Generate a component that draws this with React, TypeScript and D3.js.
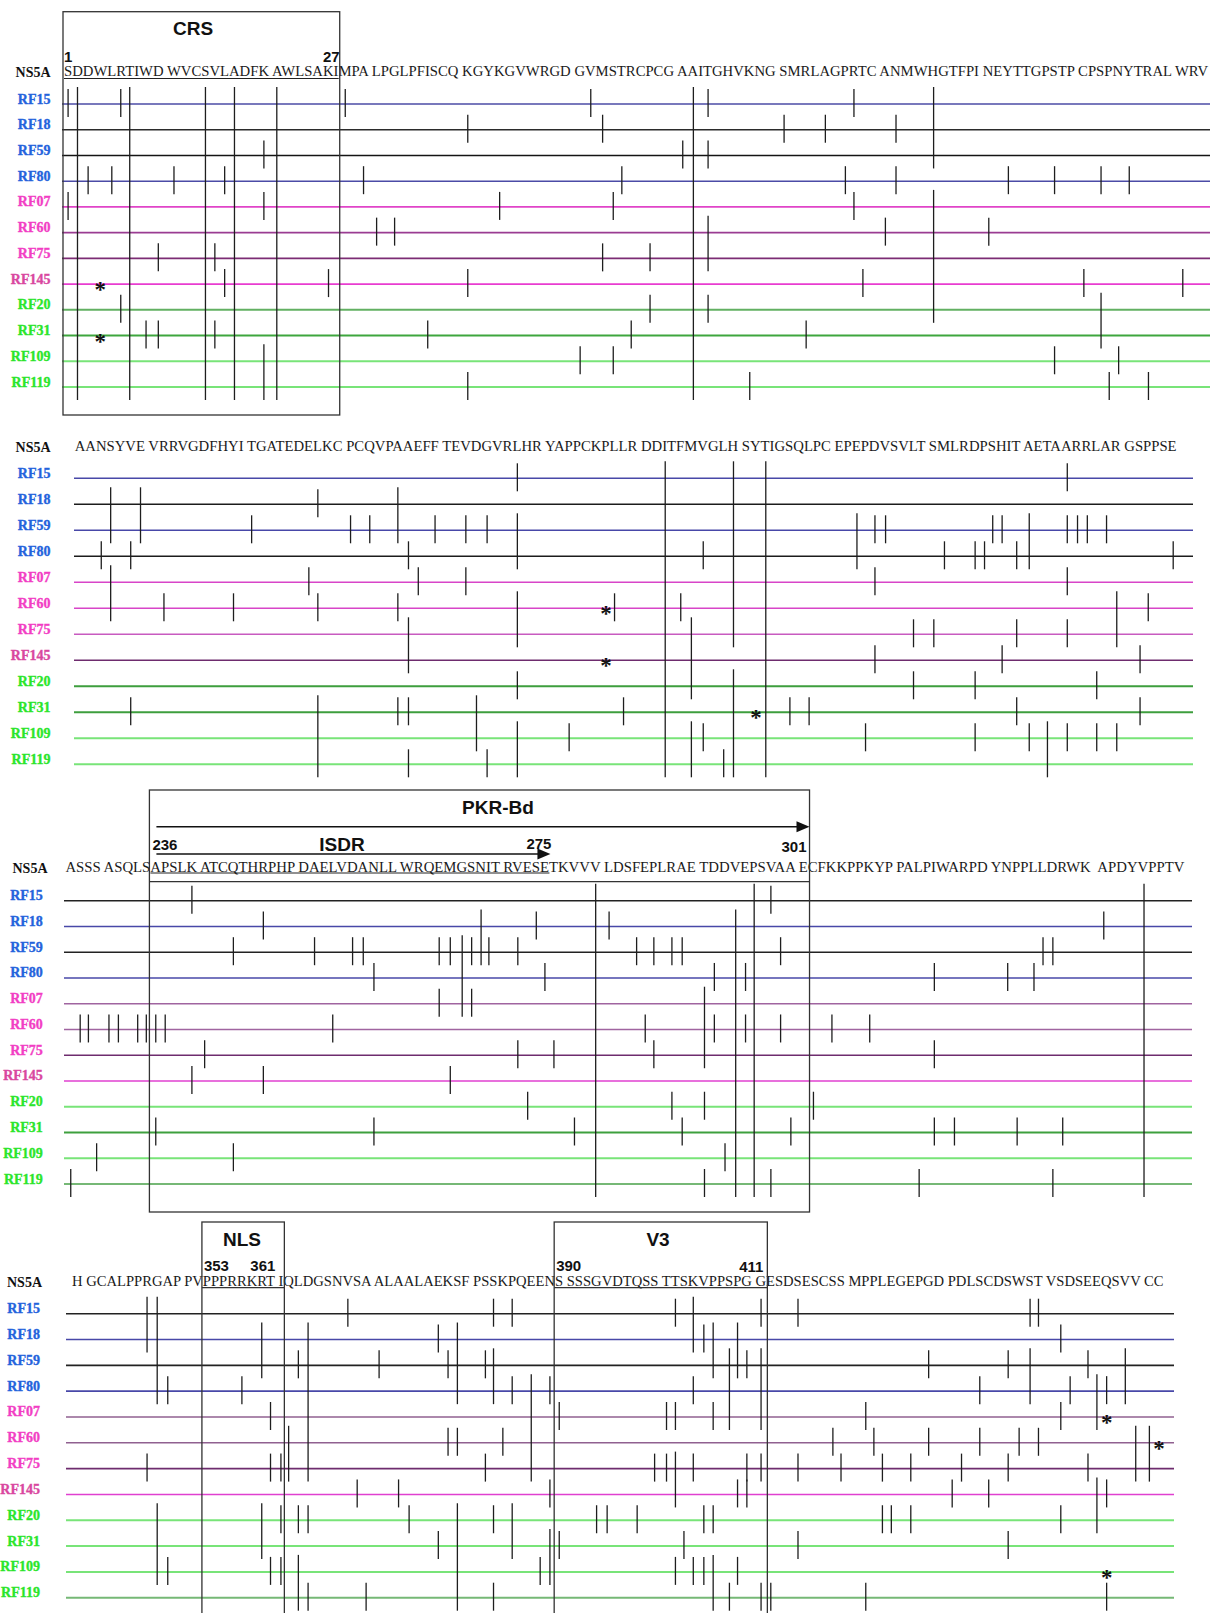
import React, { useEffect, useRef } from 'react';
import * as d3 from 'd3';

const W = 1210;
const H = 1613;

const ROWS = ['RF15', 'RF18', 'RF59', 'RF80', 'RF07', 'RF60', 'RF75', 'RF145', 'RF20', 'RF31', 'RF109', 'RF119'];
const ROW_LABEL_COLORS = ['#2463dc', '#2463dc', '#2463dc', '#2463dc', '#f23ec4', '#f23ec4', '#f23ec4', '#d9479f', '#2be52b', '#2be52b', '#2be52b', '#2be52b'];

// ---- panel 1 : residues 1-113
const SEQ_1 = 'SDDWLRTIWD WVCSVLADFK AWLSAKIMPA LPGLPFISCQ KGYKGVWRGD GVMSTRCPCG AAITGHVKNG SMRLAGPRTC ANMWHGTFPI NEYTTGPSTP CPSPNYTRAL WRV';
const MUT_1 = [
  [1, 6, 28, 52, 64, 78],
  [41, 53, 71, 75, 82],
  [20, 61, 64],
  [3, 5, 11, 16, 30, 55, 77, 82, 93, 98, 103, 106],
  [1, 20, 44, 54, 78],
  [31, 33, 81, 91],
  [10, 15, 53, 58],
  [16, 26, 41, 79, 101, 111],
  [6, 58, 64],
  [9, 10, 15, 37, 56, 73],
  [51, 54, 98, 105],
  [41, 68, 104, 108],
];
const LONG_1: [number, string, string][] = [
  [2, 'RF15', 'RF119'], [7, 'RF15', 'RF119'], [14, 'RF15', 'RF119'], [17, 'RF15', 'RF119'],
  [21, 'RF15', 'RF119'], [20, 'RF109', 'RF119'], [62, 'RF15', 'RF119'], [85, 'RF15', 'RF59'],
  [85, 'RF07', 'RF20'], [64, 'RF60', 'RF75'], [103, 'RF20', 'RF31'],
];
const STAR_1: [number, string][] = [[4, 'RF145'], [4, 'RF31']];

// ---- panel 2 : residues 114-226
const SEQ_2 = 'AANSYVE VRRVGDFHYI TGATEDELKC PCQVPAAEFF TEVDGVRLHR YAPPCKPLLR DDITFMVGLH SYTIGSQLPC EPEPDVSVLT SMLRDPSHIT AETAARRLAR GSPPSE';
const MUT_2 = [
  [158, 215],
  [138],
  [131, 141, 143, 150, 153, 155, 195, 196, 207, 208, 215, 216, 217, 219],
  [116, 119, 147, 177, 202, 205, 206, 210, 226],
  [137, 148, 153, 195, 215],
  [122, 129, 138, 146, 168, 175, 223],
  [199, 201, 210, 215],
  [195, 208, 222],
  [158, 199, 205, 218],
  [119, 146, 147, 169, 186, 188, 210, 222],
  [163, 177, 194, 205, 211, 215, 218, 220],
  [147, 155, 179],
];
const LONG_2: [number, string, string][] = [
  [173, 'RF15', 'RF119'], [180, 'RF15', 'RF75'], [180, 'RF20', 'RF119'], [183, 'RF15', 'RF119'],
  [158, 'RF59', 'RF80'], [158, 'RF60', 'RF75'], [158, 'RF109', 'RF119'], [117, 'RF18', 'RF59'],
  [117, 'RF07', 'RF60'], [120, 'RF18', 'RF59'], [146, 'RF18', 'RF59'], [138, 'RF31', 'RF119'],
  [154, 'RF31', 'RF109'], [147, 'RF75', 'RF145'], [193, 'RF59', 'RF80'], [211, 'RF59', 'RF80'],
  [220, 'RF60', 'RF75'], [176, 'RF75', 'RF20'], [176, 'RF109', 'RF119'], [213, 'RF109', 'RF119'],
];
const STAR_2: [number, string][] = [[167, 'RF60'], [167, 'RF145'], [182, 'RF31']];

// ---- panel 3 : residues 227-339
const SEQ_3 = 'ASSS ASQLSAPSLK ATCQTHRPHP DAELVDANLL WRQEMGSNIT RVESETKVVV LDSFEPLRAE TDDVEPSVAA ECFKKPPKYP PALPIWARPD YNPPLLDRWK  APDYVPPTV';
const MUT_3 = [
  [240, 298],
  [247, 274, 281, 331],
  [244, 252, 256, 257, 264, 265, 267, 269, 272, 284, 286, 288, 289, 299, 326, 327],
  [258, 275, 292, 295, 315, 322, 325],
  [264, 267],
  [228, 229, 231, 232, 234, 235, 236, 237, 254, 285, 292, 295, 299, 304, 308],
  [241, 272, 276, 286, 315],
  [240, 247, 265],
  [273, 288, 291, 302],
  [236, 258, 278, 289, 300, 315, 317, 323, 328],
  [230, 244, 293],
  [227, 291, 298, 313, 327],
];
const LONG_3: [number, string, string][] = [
  [280, 'RF15', 'RF119'], [296, 'RF15', 'RF119'], [294, 'RF18', 'RF119'], [335, 'RF15', 'RF119'],
  [291, 'RF07', 'RF75'], [268, 'RF18', 'RF59'], [266, 'RF59', 'RF07'],
];
const STAR_3: [number, string][] = [];

// ---- panel 4 : residues 340-452
const SEQ_4 = 'H GCALPPRGAP PVPPPRRKRT IQLDGSNVSA ALAALAEKSF PSSKPQEENS SSSGVDTQSS TTSKVPPSPG GESDSESCSS MPPLEGEPGD PDLSCDSWST VSDSEEQSVV CC';
const MUT_4 = [
  [368, 383, 385, 402, 411, 415, 439, 440],
  [377, 405, 442],
  [363, 371, 378, 382, 410, 429, 437, 445],
  [349, 357, 385, 389, 404, 434, 443, 447],
  [360, 390, 401, 402, 406, 422, 442],
  [378, 379, 384, 419, 423, 429, 434, 438, 440],
  [347, 360, 361, 382, 400, 401, 404, 410, 411, 415, 420, 424, 427, 432, 437, 445],
  [369, 373, 389, 409, 410, 431, 435, 447],
  [361, 363, 364, 374, 383, 394, 395, 398, 405, 406, 424, 425, 427, 442],
  [377, 390, 403, 415, 437],
  [349, 360, 361, 388, 402, 404, 405, 409],
  [364, 370, 383, 408, 411, 412, 422, 447],
];
const LONG_4: [number, string, string][] = [
  [347, 'RF15', 'RF18'], [348, 'RF15', 'RF80'], [359, 'RF18', 'RF59'], [364, 'RF18', 'RF75'],
  [379, 'RF18', 'RF80'], [383, 'RF59', 'RF80'], [387, 'RF80', 'RF75'], [362, 'RF60', 'RF75'],
  [348, 'RF20', 'RF109'], [359, 'RF20', 'RF31'], [379, 'RF20', 'RF119'], [385, 'RF20', 'RF31'],
  [389, 'RF31', 'RF109'], [363, 'RF109', 'RF119'], [404, 'RF15', 'RF18'], [406, 'RF18', 'RF59'],
  [409, 'RF18', 'RF59'], [408, 'RF59', 'RF07'], [411, 'RF59', 'RF07'], [439, 'RF59', 'RF80'],
  [449, 'RF59', 'RF80'], [446, 'RF80', 'RF07'], [450, 'RF60', 'RF75'], [451, 'RF60', 'RF75'],
  [402, 'RF75', 'RF145'], [446, 'RF145', 'RF20'], [406, 'RF109', 'RF119'],
];
const STAR_4: [number, string][] = [[447, 'RF07'], [452, 'RF60'], [447, 'RF109']];

// row line colours per panel
const LINE_1 = ['#4b4ba6', '#2b2b2b', '#141414', '#4b4ba6', '#e044c8', '#9a3c92', '#7c2c74', '#e83cd0', '#62b062', '#3ea63e', '#78e478', '#78e478'];
const LINE_2 = ['#4848a8', '#1c1c1c', '#4848a8', '#1c1c1c', '#d844c8', '#d844c8', '#c85ac0', '#6e2c6e', '#3e9e3e', '#3e9e3e', '#78e478', '#78e478'];
const LINE_3 = ['#222222', '#4848a8', '#222222', '#4848a8', '#a064a0', '#a064a0', '#6e2c6e', '#e040d0', '#78e478', '#3ea03e', '#78e478', '#76b876'];
const LINE_4 = ['#222222', '#4848a8', '#222222', '#4848a8', '#906090', '#906090', '#6e2c6e', '#e040d0', '#78e478', '#78e478', '#78e478', '#76b876'];

const PANELS = [
  { seq: SEQ_1, first: 1, mut: MUT_1, spans: LONG_1, stars: STAR_1, colors: LINE_1, textX: [64, 1209], baseY: 76.5, nameRight: 50.6, labelRight: 50.5, lineX: [62, 1210], rowY: [104, 387] },
  { seq: SEQ_2, first: 114, mut: MUT_2, spans: LONG_2, stars: STAR_2, colors: LINE_2, textX: [74.7, 1177.7], baseY: 451.5, nameRight: 50.6, labelRight: 50.5, lineX: [74, 1193], rowY: [478.3, 764.3] },
  { seq: SEQ_3, first: 227, mut: MUT_3, spans: LONG_3, stars: STAR_3, colors: LINE_3, textX: [65.4, 1185.5], baseY: 872.5, nameRight: 47.5, labelRight: 42.8, lineX: [64, 1192], rowY: [900.7, 1184] },
  { seq: SEQ_4, first: 340, mut: MUT_4, spans: LONG_4, stars: STAR_4, colors: LINE_4, textX: [72, 1164], baseY: 1286.5, nameRight: 42, labelRight: 40, lineX: [66, 1174], rowY: [1313.7, 1597.7] },
];

// annotation boxes (by residue range)
const BOXES = [
  { panel: 0, from: 1, to: 27, top: 11.7, bottom: 415, title: 'CRS', titleX: 193, titleY: 35, divider: 0 },
  { panel: 2, from: 236, to: 301, top: 790, bottom: 1212, title: 'PKR-Bd', titleX: 498, titleY: 814, divider: 881.7 },
  { panel: 3, from: 353, to: 361, top: 1222, bottom: 1660, title: 'NLS', titleX: 242, titleY: 1246, divider: 1287.7 },
  { panel: 3, from: 390, to: 411, top: 1222, bottom: 1660, title: 'V3', titleX: 658, titleY: 1246, divider: 1287.7 },
];
const NUMBERS = [
  { panel: 0, text: '1', res: 1, side: 'start', dx: 0, y: 61.5 },
  { panel: 0, text: '27', res: 27, side: 'end', dx: 1, y: 61.5 },
  { panel: 2, text: '236', res: 236, side: 'start', dx: 2, y: 850 },
  { panel: 2, text: '275', res: 275, side: 'end', dx: 2, y: 848.5 },
  { panel: 2, text: '301', res: 301, side: 'end', dx: -2, y: 851.5 },
  { panel: 3, text: '353', res: 353, side: 'start', dx: 1, y: 1271 },
  { panel: 3, text: '361', res: 361, side: 'end', dx: -8, y: 1271 },
  { panel: 3, text: '390', res: 390, side: 'start', dx: 1, y: 1271 },
  { panel: 3, text: '411', res: 411, side: 'end', dx: -3, y: 1271.5 },
];
const UNDERLINES = [
  { panel: 0, from: 1, to: 27, y: 78.5 },
  { panel: 2, from: 236, to: 275, y: 873 },
];
const ARROWS = [
  { panel: 2, from: 236, to: 301, y: 826.7, label: '', labelX: 0 },
  { panel: 2, from: 236, to: 275, y: 854, label: 'ISDR', labelX: 342 },
];

const SERIF = "'Liberation Serif', 'Times New Roman', serif";
const SANS = "'Liberation Sans', Arial, sans-serif";

function App() {
  const ref = useRef<SVGSVGElement>(null);

  useEffect(() => {
    const svg = d3.select(ref.current);
    svg.selectAll('*').remove();
    svg.append('rect').attr('width', W).attr('height', H).attr('fill', '#fff');

    PANELS.forEach((p, pi) => {
      const g = svg.append('g');
      const [x0, x1] = p.textX;

      // sequence text, then measure each residue
      const seqText = g.append('text')
        .attr('x', x0).attr('y', p.baseY)
        .attr('font-family', SERIF).attr('font-size', 15).attr('fill', '#1a1a1a')
        .attr('xml:space', 'preserve').style('white-space', 'pre')
        .text(p.seq);
      const node = seqText.node() as SVGTextElement;
      let natural = 0;
      try { natural = node.getComputedTextLength(); } catch (e) { natural = 0; }
      const k = natural > 0 ? (x1 - x0) / natural : 1;
      const res: number[] = [], lo: number[] = [], hi: number[] = [];
      let r = p.first;
      const step = (x1 - x0) / p.seq.length;
      for (let i = 0; i < p.seq.length; i++) {
        if (p.seq[i] === ' ') continue;
        let a = NaN, b = NaN;
        try { a = node.getStartPositionOfChar(i).x; b = node.getEndPositionOfChar(i).x; } catch (e) { /* ignore */ }
        if (natural > 0 && isFinite(a) && isFinite(b) && b > a) {
          a = x0 + (a - x0) * k; b = x0 + (b - x0) * k;
        } else {
          a = x0 + i * step; b = a + step;
        }
        res.push(r); lo.push(a); hi.push(b); r++;
      }
      if (natural > 0) seqText.attr('transform', `translate(${x0},0) scale(${k},1) translate(${-x0},0)`);

      const x = d3.scaleLinear().domain(res).range(res.map((_, i) => (lo[i] + hi[i]) / 2));
      const xLo = d3.scaleLinear().domain(res).range(lo);
      const xHi = d3.scaleLinear().domain(res).range(hi);
      const y = d3.scalePoint<string>().domain(ROWS).range(p.rowY as [number, number]);

      g.append('text')
        .attr('x', p.nameRight).attr('y', p.baseY).attr('text-anchor', 'end')
        .attr('font-family', SERIF).attr('font-weight', 'bold').attr('font-size', 14)
        .attr('fill', '#111').text('NS5A');

      // row lines + labels
      g.selectAll('line.row').data(ROWS).enter().append('line')
        .attr('class', 'row')
        .attr('x1', p.lineX[0]).attr('x2', p.lineX[1])
        .attr('y1', d => y(d)!).attr('y2', d => y(d)!)
        .attr('stroke', (d, i) => p.colors[i])
        .attr('stroke-width', (d, i) => (i >= 8 ? 2 : 1.6));
      g.selectAll('text.lab').data(ROWS).enter().append('text')
        .attr('class', 'lab')
        .attr('x', p.labelRight).attr('y', d => y(d)! - 0.5)
        .attr('text-anchor', 'end')
        .attr('font-family', SERIF).attr('font-weight', 'bold').attr('font-size', 14)
        .attr('fill', (d, i) => ROW_LABEL_COLORS[i])
        .attr('stroke', (d, i) => ROW_LABEL_COLORS[i]).attr('stroke-width', 0.35)
        .text(d => d);

      // long lines spanning rows
      g.selectAll('line.span').data(p.spans).enter().append('line')
        .attr('class', 'span')
        .attr('x1', d => x(d[0])).attr('x2', d => x(d[0]))
        .attr('y1', d => y(d[1])! - 17).attr('y2', d => y(d[2])! + 13)
        .attr('stroke', '#1e1e1e').attr('stroke-width', 1.3);

      // short mutation ticks
      const ticks = p.mut.flatMap((list, ri) => list.map(v => ({ v, row: ROWS[ri] })));
      g.selectAll('line.tick').data(ticks).enter().append('line')
        .attr('class', 'tick')
        .attr('x1', d => x(d.v)).attr('x2', d => x(d.v))
        .attr('y1', d => y(d.row)! - 15).attr('y2', d => y(d.row)! + 13)
        .attr('stroke', '#1e1e1e').attr('stroke-width', 1.3);

      // stop codons / stars
      g.selectAll('text.star').data(p.stars).enter().append('text')
        .attr('class', 'star')
        .attr('x', d => x(d[0])).attr('y', d => y(d[1])! + 13)
        .attr('text-anchor', 'middle')
        .attr('font-family', SERIF).attr('font-weight', 'bold').attr('font-size', 23)
        .attr('fill', '#111').text('*');

      // boxes
      BOXES.filter(b => b.panel === pi).forEach(b => {
        const bx0 = xLo(b.from) - 1;
        const bx1 = xHi(b.to) + 1;
        g.append('rect')
          .attr('x', bx0).attr('y', b.top)
          .attr('width', bx1 - bx0).attr('height', b.bottom - b.top)
          .attr('fill', 'none').attr('stroke', '#333').attr('stroke-width', 1.3);
        if (b.divider) {
          g.append('line').attr('x1', bx0).attr('x2', bx1).attr('y1', b.divider).attr('y2', b.divider)
            .attr('stroke', '#333').attr('stroke-width', 1.3);
        }
        g.append('text')
          .attr('x', b.titleX).attr('y', b.titleY).attr('text-anchor', 'middle')
          .attr('font-family', SANS).attr('font-weight', 'bold').attr('font-size', 19)
          .attr('fill', '#111').text(b.title);
      });

      NUMBERS.filter(n => n.panel === pi).forEach(n => {
        g.append('text')
          .attr('x', (n.side === 'start' ? xLo(n.res) : xHi(n.res)) + n.dx)
          .attr('y', n.y).attr('text-anchor', n.side)
          .attr('font-family', SANS).attr('font-weight', 'bold').attr('font-size', 15)
          .attr('fill', '#111').text(n.text);
      });

      UNDERLINES.filter(u => u.panel === pi).forEach(u => {
        g.append('line')
          .attr('x1', xLo(u.from)).attr('x2', xHi(u.to))
          .attr('y1', u.y).attr('y2', u.y)
          .attr('stroke', '#222').attr('stroke-width', 1.2);
      });

      ARROWS.filter(a => a.panel === pi).forEach(a => {
        const ax0 = xLo(a.from) + 6;
        const tip = xHi(a.to) + 1;
        g.append('line')
          .attr('x1', ax0).attr('x2', tip - 10)
          .attr('y1', a.y).attr('y2', a.y)
          .attr('stroke', '#111').attr('stroke-width', 1.6);
        g.append('path')
          .attr('d', `M${tip},${a.y} L${tip - 13},${a.y - 5.5} L${tip - 13},${a.y + 5.5} Z`)
          .attr('fill', '#111');
        if (a.label) {
          g.append('text')
            .attr('x', a.labelX).attr('y', a.y - 3.5).attr('text-anchor', 'middle')
            .attr('font-family', SANS).attr('font-weight', 'bold').attr('font-size', 19)
            .attr('fill', '#111').text(a.label);
        }
      });
    });
  }, []);

  return (
    <div style={{ position: 'absolute', left: 0, top: 0, background: '#fff' }}>
      <svg ref={ref} width={W} height={H} style={{ display: 'block' }} />
    </div>
  );
}

export default App;
